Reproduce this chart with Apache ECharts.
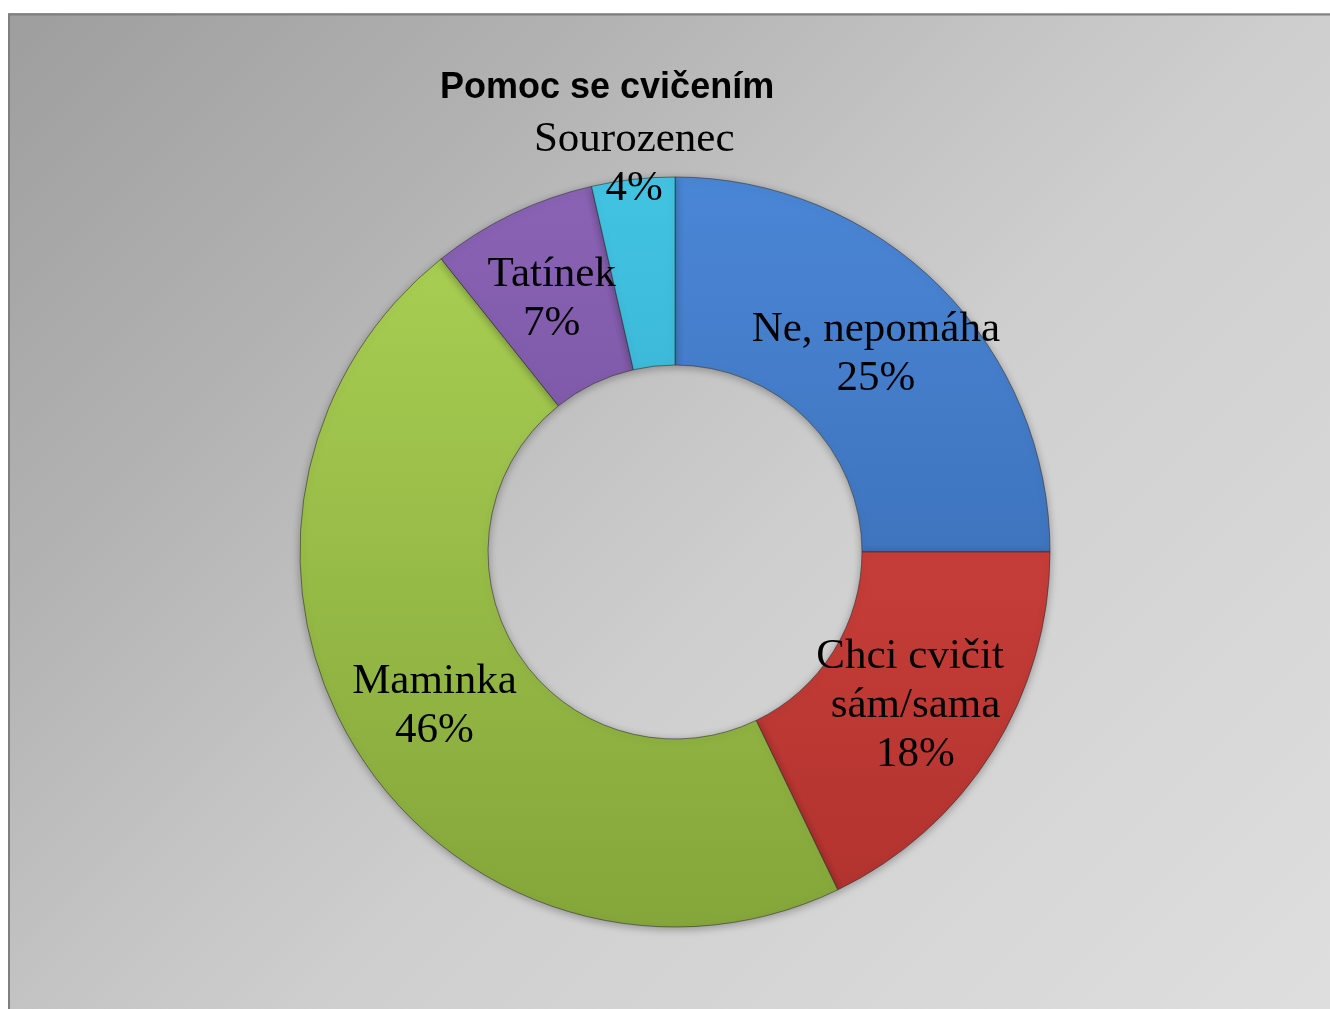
<!DOCTYPE html>
<html>
<head>
    <meta charset="utf-8">
    <title>Pomoc se cvičením</title>
    <script src="https://cdn.jsdelivr.net/npm/echarts@6/dist/echarts.min.js"></script>
    <style>
        html, body { margin: 0; padding: 0; background: #fff; }
    </style>
</head>
<body>
    <div id="main" style="width: 1330px;height:1009px;"></div>

<script>
// data (slice angles fit answers out of 28 pupils)
const categories = ['Ne, nepomáha', 'Chci cvičit sám/sama', 'Maminka', 'Tatínek', 'Sourozenec'];
const values = [7, 5, 13, 2, 1];
const topColors = ['#4a86d6', '#dc4943', '#acd255', '#8a63b5', '#42c3e2'];
const bottomColors = ['#3463a6', '#b0322e', '#84a63a', '#6a4790', '#2e9fbd'];

// vertical shading over the whole ring, like the original 3D look
function ringGradient(i) {
    return new echarts.graphic.LinearGradient(0, 178, 0, 928, [
        { offset: 0, color: topColors[i] },
        { offset: 1, color: bottomColors[i] }
    ], true);
}

const myChart = echarts.init(document.getElementById('main'));

const seriesData = categories.map((name, i) => {
    const item = {
        name: name,
        value: values[i],
        itemStyle: { color: ringGradient(i) }
    };
    // long name is wrapped onto two lines like in the original
    if (i === 1) {
        item.label = { width: 270, overflow: 'break' };
    }
    return item;
});

const option = {
    animation: false,
    graphic: [
        {
            type: 'rect',
            z: -10,
            silent: true,
            shape: { x: 8, y: 13, width: 1330, height: 1000 },
            style: {
                fill: new echarts.graphic.LinearGradient(0, 0, 1160, 1160, [
                    { offset: 0, color: '#9d9d9d' },
                    { offset: 0.26, color: '#b2b2b2' },
                    { offset: 0.47, color: '#c6c6c6' },
                    { offset: 0.58, color: '#cfcfcf' },
                    { offset: 1, color: '#dedede' }
                ], true),
                stroke: null
            }
        },
        {
            type: 'polyline',
            z: -5,
            silent: true,
            shape: { points: [[9, 1009], [9, 14.5], [1330, 14.5]] },
            style: { stroke: '#7f7f7f', lineWidth: 2, fill: null }
        }
    ],
    title: {
        text: 'Pomoc se cvičením',
        left: 435,
        top: 62,
        textStyle: {
            fontFamily: 'Liberation Sans',
            fontWeight: 'bold',
            fontSize: 36,
            lineHeight: 42,
            color: '#000'
        }
    },
    series: [{
        type: 'pie',
        center: [675, 552],
        radius: [187, 375],
        startAngle: 90,
        clockwise: true,
        percentPrecision: 0,
        itemStyle: {
            borderColor: 'rgba(40,40,40,0.55)',
            borderWidth: 1,
            shadowBlur: 8,
            shadowColor: 'rgba(0,0,0,0.3)',
            shadowOffsetY: 2
        },
        label: {
            show: true,
            position: 'inside',
            formatter: '{b}\n{d}%',
            fontFamily: 'Liberation Serif',
            fontSize: 43,
            lineHeight: 49,
            color: '#000',
            textBorderWidth: 0
        },
        labelLine: { show: false },
        labelLayout: (params) => {
            // the small slice label was pulled up above the ring
            if (params.dataIndex === 4) {
                return { dx: -9, dy: -106 };
            }
            return { dy: 3 };
        },
        emphasis: { disabled: true },
        data: seriesData
    }]
};

myChart.setOption(option);
</script>
</body>
</html>
